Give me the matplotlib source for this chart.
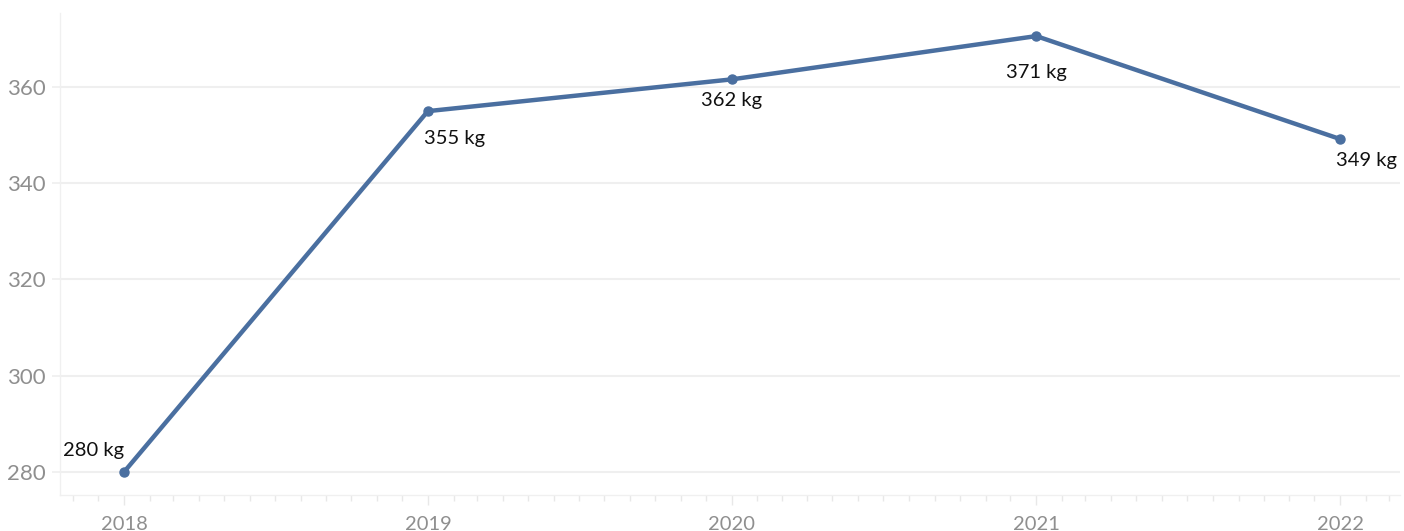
import matplotlib
matplotlib.use("Agg")
from matplotlib import pyplot as plt
import matplotlib.dates as mdates
import pandas as pd

# data (kg per year)
years = ["2018", "2019", "2020", "2021", "2022"]
values = [280.0, 355.0, 361.6, 370.6, 349.2]
label_texts = ["280 kg", "355 kg", "362 kg", "371 kg", "349 kg"]

dates = pd.to_datetime([y + "-01-01" for y in years])

line_color = "#4a6fa0"
grid_color = "#efefef"
tick_color = "#8f8f8f"

plt.rcParams['font.family'] = ['Lato', 'DejaVu Sans']

fig = plt.figure(figsize=(14.04, 5.31), dpi=100)
ax = fig.add_axes([60 / 1404, 1 - 495 / 531, 1340 / 1404, 482 / 531])

ax.plot(dates, values, color=line_color, linewidth=3.2, marker="o",
        markersize=6.5, solid_capstyle="round", zorder=3)

# label offsets in pixels (dx, dy) and alignment
offsets = [(0, 21, "right"), (-4, -27, "left"), (0, -21, "center"),
           (0, -36, "center"), (-4, -21, "left")]
for d, v, txt, (dx, dy, ha) in zip(dates, values, label_texts, offsets):
    ax.annotate(txt, (d, v), xytext=(dx, dy), textcoords="offset pixels",
                ha=ha, va="center", fontsize=14.5, color="#111111")

ax.set_ylim(275.2, 375.4)
ax.set_yticks([280, 300, 320, 340, 360])
ax.set_xlim(pd.Timestamp("2017-10-16"), pd.Timestamp("2022-03-14"))
ax.xaxis.set_major_locator(mdates.YearLocator())
ax.xaxis.set_major_formatter(mdates.DateFormatter("%Y"))
ax.xaxis.set_minor_locator(mdates.MonthLocator())

ax.grid(axis="y", color=grid_color, linewidth=1.5)
ax.set_axisbelow(True)

for side in ["top", "right"]:
    ax.spines[side].set_visible(False)
for side in ["left", "bottom"]:
    ax.spines[side].set_color("#f0f0f0")
    ax.spines[side].set_linewidth(1.0)

ax.tick_params(axis="y", length=6, width=1.2, color=grid_color,
               labelsize=16, labelcolor=tick_color, pad=4)
ax.tick_params(axis="x", which="major", length=7, width=1.0, color="#e8e8e8",
               labelsize=14.5, labelcolor=tick_color, pad=8)
ax.tick_params(axis="x", which="minor", length=4, width=1.0, color="#e8e8e8")

plt.savefig("out.png", dpi=100)
